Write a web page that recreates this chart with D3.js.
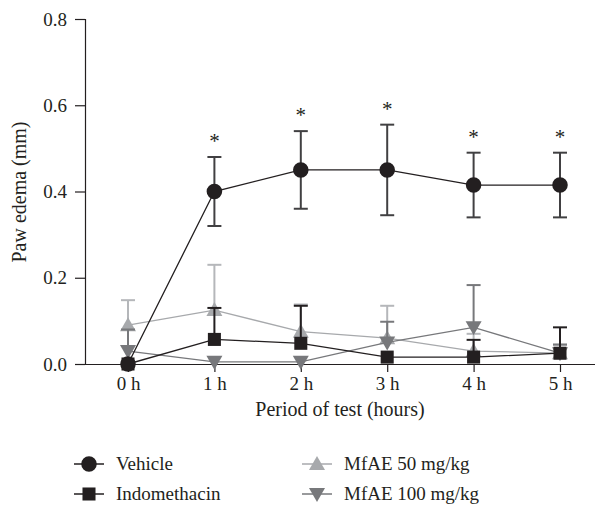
<!DOCTYPE html>
<html>
<head>
<meta charset="utf-8">
<script src="https://cdn.jsdelivr.net/npm/d3@7"></script>
<style>
  body { margin: 0; background: #fff; }
  svg text { font-family: "Liberation Serif", "DejaVu Serif", serif; fill: #231f20; }
</style>
</head>
<body>
<div class="vis"></div>
<script>
// data
var hours = ['0 h', '1 h', '2 h', '3 h', '4 h', '5 h'];
var yTicks = [0, 0.2, 0.4, 0.6, 0.8];

var vehicle      = [0, 0.40, 0.45, 0.45, 0.415, 0.415];
var vehicleErr   = [0, 0.08, 0.09, 0.105, 0.075, 0.075];
var indo         = [0, 0.057, 0.048, 0.016, 0.016, 0.025];
var indoErr      = [0, 0.073, 0.087, 0, 0.04, 0.06];
var mfae50       = [0.09, 0.125, 0.075, 0.06, 0.03, 0.025];
var mfae50Err    = [0.058, 0.105, 0.063, 0.075, 0.04, 0.02];
var mfae100      = [0.03, 0.005, 0.005, 0.05, 0.085, 0.025];
var mfae100Err   = [0.05, 0, 0, 0.048, 0.098, 0.02];
var stars        = [false, true, true, true, true, true];

var series = [
  {name: 'MfAE 50 mg/kg', vals: mfae50, err: mfae50Err, color: '#a7a9ac', errColor: '#b5b7ba', shape: 'up', both: false},
  {name: 'MfAE 100 mg/kg', vals: mfae100, err: mfae100Err, color: '#77787b', errColor: '#77787b', shape: 'down', both: false},
  {name: 'Indomethacin', vals: indo, err: indoErr, color: '#231f20', errColor: '#231f20', shape: 'square', both: false},
  {name: 'Vehicle', vals: vehicle, err: vehicleErr, color: '#231f20', errColor: '#414042', shape: 'circle', both: true}
];

var W = 595, H = 507;
var FONT = '"Liberation Serif", "DejaVu Serif", serif';
var svg = d3.select('.vis').append('svg').attr('width', W).attr('height', H);

var x = d3.scalePoint().domain(hours).range([128, 560]);
var y = d3.scaleLinear().domain([0, 0.8]).range([364, 19]);

// axes
var yAxis = d3.axisLeft(y).tickValues(yTicks).tickSize(10).tickPadding(8)
  .tickFormat(d3.format('.1f'));
var gy = svg.append('g').attr('transform', 'translate(85,0)').call(yAxis)
  .attr('font-family', FONT);
gy.select('.domain').attr('stroke', '#231f20').attr('stroke-width', 1.2);
gy.selectAll('line').attr('stroke', '#231f20').attr('stroke-width', 1.2);
gy.selectAll('text').style('font-size', '19px').attr('fill', '#231f20');

var xAxis = d3.axisBottom(x).tickSize(8).tickPadding(5);
var gx = svg.append('g').attr('transform', 'translate(0,364)').call(xAxis)
  .attr('font-family', FONT);
gx.select('.domain').attr('d', 'M85,0.5H595').attr('stroke', '#231f20').attr('stroke-width', 1.2);
gx.selectAll('line').attr('stroke', '#231f20').attr('stroke-width', 1.2);
gx.selectAll('text').style('font-size', '19px').attr('fill', '#231f20');

svg.append('text').attr('x', 340).attr('y', 416).attr('text-anchor', 'middle')
  .style('font-size', '20px').text('Period of test (hours)');
svg.append('text').attr('transform', 'translate(26,192) rotate(-90)').attr('text-anchor', 'middle')
  .style('font-size', '20px').text('Paw edema (mm)');

function symbolPath(shape) {
  if (shape === 'circle') return d3.symbol(d3.symbolCircle, 190)();
  if (shape === 'square') return d3.symbol(d3.symbolSquare, 170)();
  var s = 8;
  if (shape === 'up') return 'M0,' + (-s) + 'L' + s + ',' + (s * 0.75) + 'L' + (-s) + ',' + (s * 0.75) + 'Z';
  return 'M0,' + s + 'L' + s + ',' + (-s * 0.75) + 'L' + (-s) + ',' + (-s * 0.75) + 'Z';
}

var line = d3.line().x(function(d, i) { return x(hours[i]); }).y(function(d) { return y(d); });

series.forEach(function(s) {
  var g = svg.append('g');
  // error bars
  s.vals.forEach(function(v, i) {
    if (!s.err[i]) return;
    var cx = x(hours[i]);
    var lo = s.both ? v - s.err[i] : v;
    var hi = v + s.err[i];
    g.append('line').attr('x1', cx).attr('x2', cx).attr('y1', y(lo)).attr('y2', y(hi))
      .attr('stroke', s.errColor).attr('stroke-width', 2);
    g.append('line').attr('x1', cx - 7).attr('x2', cx + 7).attr('y1', y(hi)).attr('y2', y(hi))
      .attr('stroke', s.errColor).attr('stroke-width', 2);
    if (s.both) {
      g.append('line').attr('x1', cx - 7).attr('x2', cx + 7).attr('y1', y(lo)).attr('y2', y(lo))
        .attr('stroke', s.errColor).attr('stroke-width', 2);
    }
  });
  g.append('path').datum(s.vals).attr('d', line).attr('fill', 'none')
    .attr('stroke', s.color).attr('stroke-width', 1.3);
  g.selectAll('.pt').data(s.vals).enter().append('path')
    .attr('transform', function(d, i) { return 'translate(' + x(hours[i]) + ',' + y(d) + ')'; })
    .attr('d', symbolPath(s.shape)).attr('fill', s.color);
});

// significance stars
vehicle.forEach(function(v, i) {
  if (!stars[i]) return;
  svg.append('text').attr('x', x(hours[i])).attr('y', y(v + vehicleErr[i]) - 9)
    .attr('text-anchor', 'middle').style('font-size', '21px').attr('fill', '#414042').text('*');
});

// legend
var legend = [
  {s: series[3], lx: 89, ly: 464},
  {s: series[2], lx: 89, ly: 494},
  {s: series[0], lx: 317, ly: 464},
  {s: series[1], lx: 317, ly: 494}
];
legend.forEach(function(l) {
  var g = svg.append('g').attr('transform', 'translate(' + l.lx + ',' + l.ly + ')');
  g.append('line').attr('x1', -15).attr('x2', 15).attr('stroke', l.s.color).attr('stroke-width', 1.5);
  g.append('path').attr('d', symbolPath(l.s.shape)).attr('fill', l.s.color);
  g.append('text').attr('x', 27).attr('y', 6).style('font-size', '19px').text(l.s.name);
});
</script>
</body>
</html>
